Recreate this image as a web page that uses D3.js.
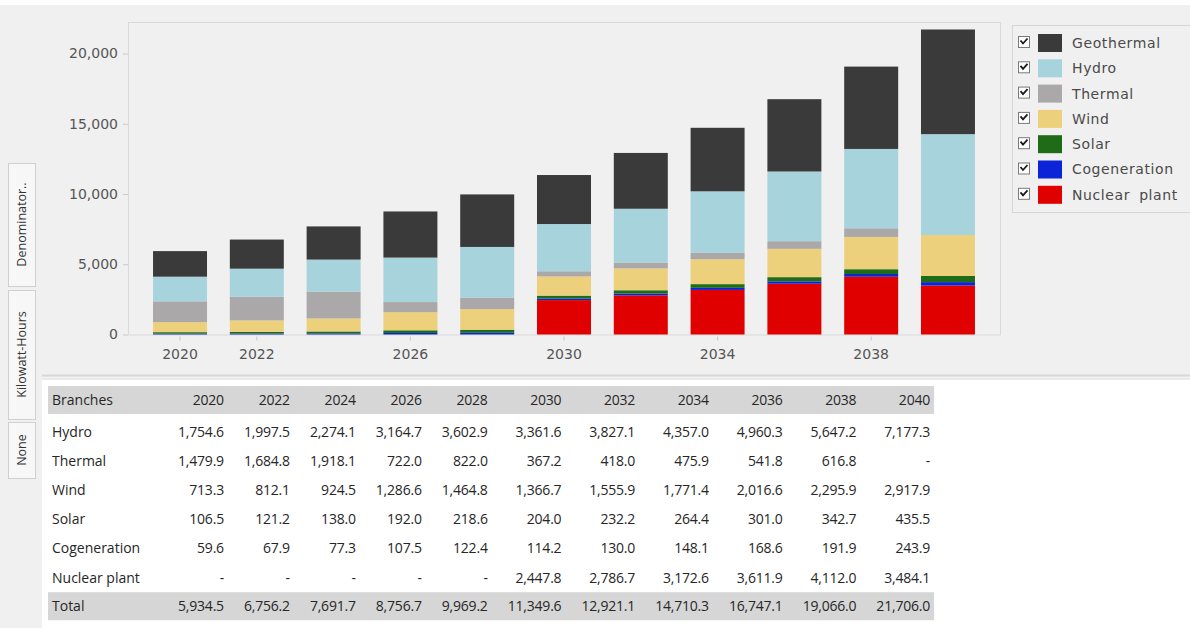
<!DOCTYPE html>
<html>
<head>
<meta charset="utf-8">
<script src="https://cdn.jsdelivr.net/npm/d3@7/dist/d3.min.js"></script>
<style>
  html, body { margin: 0; padding: 0; background: #ffffff; }
  svg { display: block; }
</style>
</head>
<body>
<svg id="chart" width="1190" height="628"></svg>
<script>
// Electricity generation by branch, kilowatt-hours (millions)
const years = [2020, 2022, 2024, 2026, 2028, 2030, 2032, 2034, 2036, 2038, 2040];
const hydro        = [1754.6, 1997.5, 2274.1, 3164.7, 3602.9, 3361.6, 3827.1, 4357.0, 4960.3, 5647.2, 7177.3];
const thermal      = [1479.9, 1684.8, 1918.1, 722.0, 822.0, 367.2, 418.0, 475.9, 541.8, 616.8, null];
const wind         = [713.3, 812.1, 924.5, 1286.6, 1464.8, 1366.7, 1555.9, 1771.4, 2016.6, 2295.9, 2917.9];
const solar        = [106.5, 121.2, 138.0, 192.0, 218.6, 204.0, 232.2, 264.4, 301.0, 342.7, 435.5];
const cogeneration = [59.6, 67.9, 77.3, 107.5, 122.4, 114.2, 130.0, 148.1, 168.6, 191.9, 243.9];
const nuclear      = [null, null, null, null, null, 2447.8, 2786.7, 3172.6, 3611.9, 4112.0, 3484.1];
const geothermal   = [1820.6, 2072.7, 2359.7, 3283.9, 3738.5, 3488.1, 3971.2, 4520.9, 5146.9, 5859.5, 7447.3];
const totals       = [5934.5, 6756.2, 7691.7, 8756.7, 9969.2, 11349.6, 12921.1, 14710.3, 16747.1, 19066.0, 21706.0];

const yTicks = [0, 5000, 10000, 15000, 20000];
const xTickLabels = [2020, 2022, 2026, 2030, 2034, 2038];

// Series, bottom of the stack first
const series = [
  { key: "Nuclear plant", values: nuclear,      color: "#e00000" },
  { key: "Cogeneration",  values: cogeneration, color: "#0b24d8" },
  { key: "Solar",         values: solar,        color: "#1f6b17" },
  { key: "Wind",          values: wind,         color: "#ecd07b" },
  { key: "Thermal",       values: thermal,      color: "#aaa8a9" },
  { key: "Hydro",         values: hydro,        color: "#a7d3dd" },
  { key: "Geothermal",    values: geothermal,   color: "#3a3a3a" }
];
// Rows of the table below the chart
const tableRows = ["Hydro", "Thermal", "Wind", "Solar", "Cogeneration", "Nuclear plant"];

const svg = d3.select("#chart");
const panelBg = "#f0f0f0";

// Backgrounds: chart panel, table area
svg.append("rect").attr("x", 0).attr("y", 0).attr("width", 1190).attr("height", 628).attr("fill", panelBg);
svg.append("rect").attr("x", 0).attr("y", 0).attr("width", 1190).attr("height", 5).attr("fill", "#ffffff");
svg.append("rect").attr("x", 42).attr("y", 380).attr("width", 1148).attr("height", 248).attr("fill", "#ffffff");
svg.append("line").attr("x1", 42).attr("x2", 1190).attr("y1", 375.5).attr("y2", 375.5).attr("stroke", "#d8d8d8").attr("stroke-width", 2);
svg.append("line").attr("x1", 42).attr("x2", 1190).attr("y1", 379).attr("y2", 379).attr("stroke", "#e4e4e4");

// ---------- chart ----------
const plot = { left: 128, right: 1000, top: 22, bottom: 334.5 };

const x = d3.scaleBand()
  .domain(years)
  .range([plot.left, plot.right])
  .paddingInner(0.297)
  .paddingOuter(0.326);

const y = d3.scaleLinear()
  .domain([0, 22240])
  .range([plot.bottom, plot.top]);

// plot frame
svg.append("rect")
  .attr("x", plot.left + 0.5).attr("y", plot.top + 0.5)
  .attr("width", plot.right - plot.left).attr("height", plot.bottom - plot.top)
  .attr("fill", panelBg).attr("stroke", "#d9d9d9");

const data = years.map((yr, i) => {
  const row = { year: yr };
  series.forEach(s => { row[s.key] = s.values[i] == null ? 0 : s.values[i]; });
  return row;
});

const stacked = d3.stack().keys(series.map(s => s.key))(data);

svg.append("g")
  .selectAll("g")
  .data(stacked)
  .join("g")
  .attr("fill", (d, i) => series[i].color)
  .selectAll("rect")
  .data(d => d)
  .join("rect")
  .attr("x", d => x(d.data.year))
  .attr("width", x.bandwidth())
  .attr("y", d => y(d[1]))
  .attr("height", d => Math.max(0, y(d[0]) - y(d[1])));

// y axis
const yAxis = d3.axisLeft(y)
  .tickValues(yTicks)
  .tickFormat(d3.format(","))
  .tickSize(5)
  .tickPadding(5);
const gy = svg.append("g").attr("transform", `translate(${plot.left},0)`).call(yAxis);
gy.select(".domain").remove();
gy.selectAll(".tick line").attr("stroke", "#c8c8c8");
gy.selectAll(".tick text")
  .attr("font-family", "DejaVu Sans")
  .attr("font-size", 14)
  .attr("fill", "#555");

// x axis
const xAxis = d3.axisBottom(x)
  .tickValues(xTickLabels)
  .tickSize(4)
  .tickPadding(9);
const gx = svg.append("g").attr("transform", `translate(0,${plot.bottom + 2})`).call(xAxis);
gx.select(".domain").remove();
gx.selectAll(".tick line").attr("stroke", "#c8c8c8");
gx.selectAll(".tick text")
  .attr("font-family", "DejaVu Sans")
  .attr("font-size", 14)
  .attr("fill", "#555");

// ---------- legend ----------
const legend = svg.append("g");
legend.append("rect")
  .attr("x", 1012.5).attr("y", 25.5).attr("width", 190).attr("height", 187)
  .attr("fill", panelBg).attr("stroke", "#d6d6d6");

const legendItems = series.slice().reverse();
const li = legend.selectAll("g.item")
  .data(legendItems)
  .join("g")
  .attr("class", "item")
  .attr("transform", (d, i) => `translate(0,${43 + i * 25.3})`);

// checkbox
li.append("rect")
  .attr("x", 1018.5).attr("y", -6.5).attr("width", 11).attr("height", 11)
  .attr("fill", "#ffffff").attr("stroke", "#7a7a7a");
li.append("path")
  .attr("d", "M1020.5,-2.5 L1023,0.5 L1027.5,-4.5")
  .attr("fill", "none").attr("stroke", "#1a1a1a").attr("stroke-width", 1.8);
// swatch
li.append("rect")
  .attr("x", 1038).attr("y", -9).attr("width", 24).attr("height", 18)
  .attr("fill", d => d.color);
li.append("text")
  .attr("x", 1072).attr("y", 0).attr("dy", "0.35em")
  .attr("font-family", "DejaVu Sans")
  .attr("font-size", 14)
  .attr("letter-spacing", "0.6px")
  .attr("word-spacing", "4px")
  .attr("fill", "#4a4a4a")
  .text(d => d.key);

// ---------- side tabs ----------
const tabs = [
  { label: "Denominator..", y0: 163, y1: 286 },
  { label: "Kilowatt-Hours", y0: 290, y1: 419 },
  { label: "None", y0: 422, y1: 478 }
];
const tg = svg.append("g").selectAll("g").data(tabs).join("g");
tg.append("rect")
  .attr("x", 8.5).attr("y", d => d.y0 + 0.5).attr("width", 27).attr("height", d => d.y1 - d.y0)
  .attr("fill", "#f7f7f7").attr("stroke", "#d0d0d0");
tg.append("text")
  .attr("transform", d => `translate(22,${(d.y0 + d.y1) / 2}) rotate(-90)`)
  .attr("text-anchor", "middle").attr("dy", "0.35em")
  .attr("font-family", "Open Sans")
  .attr("font-size", 12.5)
  .attr("fill", "#333")
  .text(d => d.label);

// ---------- table ----------
const fmt = v => v == null ? "-" : d3.format(",.1f")(v);
const table = svg.append("g").attr("font-family", "Open Sans").attr("font-size", 14).attr("fill", "#262626");

const tableLeft = 48;
const labelColW = 110;
const headerTop = 386, headerH = 28;
const bodyTop = 417, rowH = 29.2;

const bodyRows = tableRows.map(name => {
  const s = series.find(q => q.key === name);
  return { label: name, cells: s.values.map(fmt) };
});
const totalRow = { label: "Total", cells: totals.map(fmt) };
const headerRow = { label: "Branches", cells: years.map(String) };

// measure each column to size it
const probe = table.append("text").attr("visibility", "hidden").attr("letter-spacing", "-0.2px");
const colWidths = years.map((yr, j) => {
  let w = 0;
  [headerRow, ...bodyRows, totalRow].forEach(r => {
    probe.text(r.cells[j]);
    w = Math.max(w, probe.node().getComputedTextLength());
  });
  return w + 20;
});
probe.remove();
const colRight = [];
colWidths.reduce((acc, w) => { colRight.push(acc + w); return acc + w; }, tableLeft + labelColW);
const tableRight = colRight[colRight.length - 1] + 4;

table.append("rect").attr("x", tableLeft).attr("y", headerTop).attr("width", tableRight - tableLeft).attr("height", headerH).attr("fill", "#d6d6d6");
const totalTop = bodyTop + bodyRows.length * rowH;
table.append("rect").attr("x", tableLeft).attr("y", totalTop).attr("width", tableRight - tableLeft).attr("height", headerH).attr("fill", "#d6d6d6");

function drawRow(r, cy) {
  const g = table.append("g");
  g.append("text").attr("x", tableLeft + 4).attr("y", cy).attr("dy", "0.35em").text(r.label);
  g.selectAll("text.cell")
    .data(r.cells)
    .join("text")
    .attr("class", "cell")
    .attr("x", (d, j) => colRight[j])
    .attr("y", cy).attr("dy", "0.35em")
    .attr("text-anchor", "end")
    .attr("letter-spacing", "-0.2px")
    .text(d => d);
}
drawRow(headerRow, headerTop + headerH / 2);
bodyRows.forEach((r, i) => drawRow(r, bodyTop + i * rowH + rowH / 2));
drawRow(totalRow, totalTop + headerH / 2);
</script>
</body>
</html>
